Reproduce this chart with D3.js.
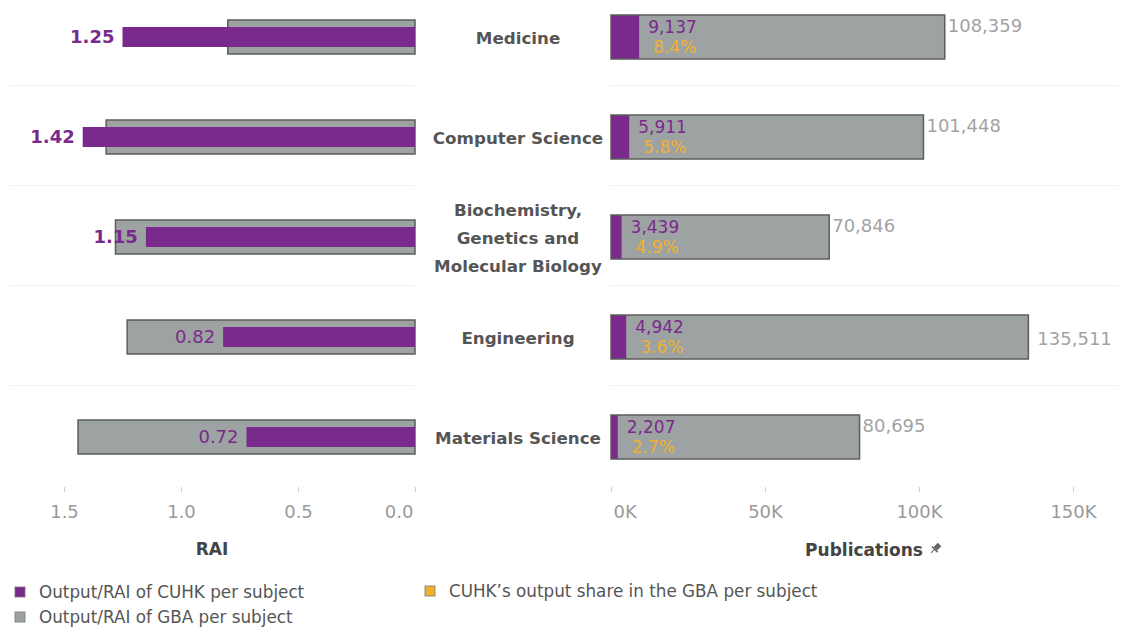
<!DOCTYPE html>
<html>
<head>
<meta charset="utf-8">
<script src="https://cdn.jsdelivr.net/npm/d3@7"></script>
<style>
  body { margin: 0; background: #fff; }
  text { font-family: "DejaVu Sans", sans-serif; }
</style>
</head>
<body>
<div id="chart"></div>
<script>
// Data
const categories = ["Medicine", "Computer Science", "Biochemistry, Genetics and Molecular Biology", "Engineering", "Materials Science"];
const categoryLines = [["Medicine"], ["Computer Science"], ["Biochemistry,", "Genetics and", "Molecular Biology"], ["Engineering"], ["Materials Science"]];
const cuhkRai = [1.25, 1.42, 1.15, 0.82, 0.72];
const gbaRai = [0.80, 1.32, 1.28, 1.23, 1.44];
const cuhkPubs = [9137, 5911, 3439, 4942, 2207];
const gbaPubs = [108359, 101448, 70846, 135511, 80695];
const shareLabels = ["8.4%", "5.8%", "4.9%", "3.6%", "2.7%"];
const raiTicks = [1.5, 1.0, 0.5, 0.0];
const pubTicks = [0, 50000, 100000, 150000];

const purple = "#7a2a8c";
const gray = "#9da3a3";
const orange = "#f2b030";

const width = 1121, height = 630;

const svg = d3.select("#chart")
  .append("svg")
  .attr("width", width)
  .attr("height", height);

// Scales
const y = d3.scaleBand().domain(categories).range([-13, 487]);
const xRai = d3.scaleLinear().domain([0, 1.5]).range([415, 64]);
const xPub = d3.scaleLinear().domain([0, 150000]).range([611, 1073]);
const mid = c => y(c) + y.bandwidth() / 2;

// Row separators
const seps = categories.slice(0, -1);
svg.selectAll(".sepL").data(seps).enter().append("line")
  .attr("x1", 10).attr("x2", 415)
  .attr("y1", d => y(d) + y.bandwidth() - 1.5).attr("y2", d => y(d) + y.bandwidth() - 1.5)
  .attr("stroke", "#f0f0f0");
svg.selectAll(".sepR").data(seps).enter().append("line")
  .attr("x1", 610).attr("x2", 1119)
  .attr("y1", d => y(d) + y.bandwidth() - 1.5).attr("y2", d => y(d) + y.bandwidth() - 1.5)
  .attr("stroke", "#f0f0f0");

// Left panel: RAI
const left = svg.append("g");
left.selectAll(".gbaRai").data(categories).enter().append("rect")
  .attr("x", (d, i) => xRai(gbaRai[i]))
  .attr("y", d => mid(d) - 17)
  .attr("width", (d, i) => xRai(0) - xRai(gbaRai[i]))
  .attr("height", 34)
  .attr("fill", gray)
  .attr("stroke", "#5c5c5c")
  .attr("stroke-width", 1.5);

left.selectAll(".cuhkRai").data(categories).enter().append("rect")
  .attr("x", (d, i) => xRai(cuhkRai[i]))
  .attr("y", d => mid(d) - 10)
  .attr("width", (d, i) => xRai(0) - xRai(cuhkRai[i]))
  .attr("height", 20)
  .attr("fill", purple);

left.selectAll(".raiLabel").data(categories).enter().append("text")
  .attr("x", (d, i) => xRai(cuhkRai[i]) - 8)
  .attr("y", d => mid(d))
  .attr("dy", "0.36em")
  .attr("text-anchor", "end")
  .attr("font-size", 18)
  .attr("font-weight", (d, i) => cuhkRai[i] > 1 ? "bold" : "normal")
  .attr("fill", purple)
  .text((d, i) => cuhkRai[i].toFixed(2));

// Category labels
const catG = svg.append("g");
categories.forEach((c, i) => {
  const lines = categoryLines[i];
  const t = catG.append("text")
    .attr("text-anchor", "middle")
    .attr("font-size", 16.7)
    .attr("font-weight", "bold")
    .attr("fill", "#555");
  lines.forEach((ln, j) => {
    t.append("tspan")
      .attr("x", 518)
      .attr("y", mid(c) + 7 + (j - (lines.length - 1) / 2) * 28)
      .text(ln);
  });
});

// Right panel: publications
const right = svg.append("g");
right.selectAll(".gbaPub").data(categories).enter().append("rect")
  .attr("x", xPub(0))
  .attr("y", d => mid(d) - 22)
  .attr("width", (d, i) => xPub(gbaPubs[i]) - xPub(0))
  .attr("height", 44)
  .attr("fill", gray);

right.selectAll(".cuhkPub").data(categories).enter().append("rect")
  .attr("x", xPub(0))
  .attr("y", d => mid(d) - 22)
  .attr("width", (d, i) => xPub(cuhkPubs[i]) - xPub(0))
  .attr("height", 44)
  .attr("fill", purple);

right.selectAll(".gbaOutline").data(categories).enter().append("rect")
  .attr("x", xPub(0))
  .attr("y", d => mid(d) - 22)
  .attr("width", (d, i) => xPub(gbaPubs[i]) - xPub(0))
  .attr("height", 44)
  .attr("fill", "none")
  .attr("stroke", "#5c5c5c")
  .attr("stroke-width", 1.5);

const fmt = d3.format(",");
right.selectAll(".cuhkLabel").data(categories).enter().append("text")
  .attr("x", (d, i) => xPub(cuhkPubs[i]) + 9)
  .attr("y", d => mid(d) - 4)
  .attr("font-size", 17)
  .attr("fill", purple)
  .text((d, i) => fmt(cuhkPubs[i]));

right.selectAll(".shareLabel").data(categories).enter().append("text")
  .attr("x", (d, i) => xPub(cuhkPubs[i]) + 14)
  .attr("y", d => mid(d) + 16)
  .attr("font-size", 17)
  .attr("fill", orange)
  .text((d, i) => shareLabels[i]);

const maxPub = d3.max(gbaPubs);
right.selectAll(".gbaLabel").data(categories).enter().append("text")
  .attr("x", (d, i) => xPub(gbaPubs[i]) + (gbaPubs[i] === maxPub ? 9 : 3))
  .attr("y", (d, i) => mid(d) + (gbaPubs[i] === maxPub ? 8 : -5))
  .attr("font-size", 18)
  .attr("fill", "#a3a3a3")
  .text((d, i) => fmt(gbaPubs[i]));

// Axes
const axisRai = svg.append("g")
  .attr("transform", "translate(0,487)")
  .call(d3.axisBottom(xRai).tickValues(raiTicks).tickSize(5).tickPadding(13).tickFormat(d3.format(".1f")));
const axisPub = svg.append("g")
  .attr("transform", "translate(0,487)")
  .call(d3.axisBottom(xPub).tickValues(pubTicks).tickSize(5).tickPadding(13).tickFormat(d => d / 1000 + "K"));

[axisRai, axisPub].forEach(a => {
  a.select(".domain").remove();
  a.selectAll(".tick line").attr("stroke", "#d0d0d0");
  a.selectAll(".tick text")
    .attr("font-family", "DejaVu Sans, sans-serif")
    .attr("font-size", 18)
    .attr("fill", "#9a9a9a");
});
axisRai.selectAll(".tick text").filter(d => d === 0).attr("text-anchor", "end").attr("dx", -2);
axisPub.selectAll(".tick text").filter(d => d === 0).attr("text-anchor", "start").attr("dx", 2);

// Axis titles
svg.append("text")
  .attr("x", 212).attr("y", 555)
  .attr("text-anchor", "middle")
  .attr("font-size", 17).attr("font-weight", "bold")
  .attr("fill", "#444")
  .text("RAI");

svg.append("text")
  .attr("x", 864).attr("y", 556)
  .attr("text-anchor", "middle")
  .attr("font-size", 17).attr("font-weight", "bold")
  .attr("fill", "#444")
  .text("Publications");

// little pin icon next to the title
const pin = svg.append("g").attr("transform", "translate(936,548) rotate(45)");
pin.append("rect").attr("x", -2.5).attr("y", -5).attr("width", 5).attr("height", 6).attr("fill", "#666");
pin.append("rect").attr("x", -4).attr("y", 1).attr("width", 8).attr("height", 1.6).attr("fill", "#666");
pin.append("line").attr("x1", 0).attr("x2", 0).attr("y1", 2).attr("y2", 7).attr("stroke", "#666").attr("stroke-width", 1);

// Legend
const legendItems = [
  { label: "Output/RAI of CUHK per subject", color: purple, x: 15, y: 598 },
  { label: "Output/RAI of GBA per subject", color: gray, x: 15, y: 623 },
  { label: "CUHK\u2019s output share in the GBA per subject", color: orange, x: 425, y: 597 }
];
const lg = svg.selectAll(".legend").data(legendItems).enter().append("g");
lg.append("rect")
  .attr("x", d => d.x).attr("y", d => d.y - 11)
  .attr("width", 10).attr("height", 10)
  .attr("fill", d => d.color)
  .attr("stroke", "#777").attr("stroke-width", 0.8);
lg.append("text")
  .attr("x", d => d.x + 24).attr("y", d => d.y)
  .attr("font-size", 16.8)
  .attr("fill", "#555")
  .text(d => d.label);
</script>
</body>
</html>
